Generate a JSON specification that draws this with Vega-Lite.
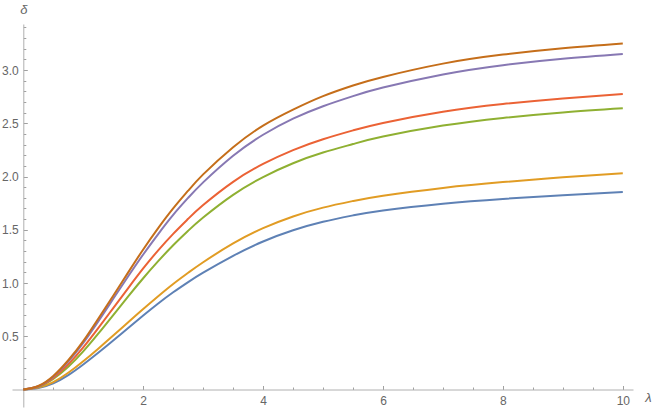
{
  "$schema": "https://vega.github.io/schema/vega-lite/v6.json",
  "width": 621,
  "height": 383,
  "autosize": "none",
  "padding": {"left": 12, "top": 24, "right": 21, "bottom": 5},
  "background": "white",
  "config": {
    "view": {"stroke": null},
    "axis": {
      "grid": false,
      "domainColor": "#b0b0b0",
      "domainWidth": 1,
      "tickColor": "#a0a0a0",
      "labelColor": "#666666",
      "labelFont": "Liberation Sans",
      "labelFontSize": 12,
      "titleFont": "Liberation Sans",
      "titleFontSize": 13,
      "titleFontStyle": "italic",
      "titleFontWeight": "normal",
      "titleColor": "#666666"
    }
  },
  "data": {
    "values": [
      {"s": 1, "l": 0, "d": 0}, {"s": 1, "l": 0.25, "d": 0.014}, {"s": 1, "l": 0.5, "d": 0.058}, {"s": 1, "l": 0.75, "d": 0.135},
      {"s": 1, "l": 1, "d": 0.235}, {"s": 1, "l": 1.25, "d": 0.345}, {"s": 1, "l": 1.5, "d": 0.46}, {"s": 1, "l": 1.75, "d": 0.578},
      {"s": 1, "l": 2, "d": 0.695}, {"s": 1, "l": 2.25, "d": 0.808}, {"s": 1, "l": 2.5, "d": 0.913}, {"s": 1, "l": 2.75, "d": 1.009},
      {"s": 1, "l": 3, "d": 1.097}, {"s": 1, "l": 3.5, "d": 1.255}, {"s": 1, "l": 4, "d": 1.39}, {"s": 1, "l": 4.5, "d": 1.495},
      {"s": 1, "l": 5, "d": 1.575}, {"s": 1, "l": 5.5, "d": 1.635}, {"s": 1, "l": 6, "d": 1.682}, {"s": 1, "l": 7, "d": 1.745},
      {"s": 1, "l": 8, "d": 1.79}, {"s": 1, "l": 9, "d": 1.825}, {"s": 1, "l": 10, "d": 1.855},

      {"s": 2, "l": 0, "d": 0}, {"s": 2, "l": 0.25, "d": 0.018}, {"s": 2, "l": 0.5, "d": 0.07}, {"s": 2, "l": 0.75, "d": 0.158},
      {"s": 2, "l": 1, "d": 0.266}, {"s": 2, "l": 1.25, "d": 0.384}, {"s": 2, "l": 1.5, "d": 0.507}, {"s": 2, "l": 1.75, "d": 0.632},
      {"s": 2, "l": 2, "d": 0.756}, {"s": 2, "l": 2.25, "d": 0.876}, {"s": 2, "l": 2.5, "d": 0.991}, {"s": 2, "l": 2.75, "d": 1.096},
      {"s": 2, "l": 3, "d": 1.195}, {"s": 2, "l": 3.5, "d": 1.372}, {"s": 2, "l": 4, "d": 1.515}, {"s": 2, "l": 4.5, "d": 1.625},
      {"s": 2, "l": 5, "d": 1.708}, {"s": 2, "l": 5.5, "d": 1.77}, {"s": 2, "l": 6, "d": 1.82}, {"s": 2, "l": 7, "d": 1.893},
      {"s": 2, "l": 8, "d": 1.948}, {"s": 2, "l": 9, "d": 1.992}, {"s": 2, "l": 10, "d": 2.03},

      {"s": 3, "l": 0, "d": 0}, {"s": 3, "l": 0.25, "d": 0.025}, {"s": 3, "l": 0.5, "d": 0.099}, {"s": 3, "l": 0.75, "d": 0.213},
      {"s": 3, "l": 1, "d": 0.358}, {"s": 3, "l": 1.25, "d": 0.524}, {"s": 3, "l": 1.5, "d": 0.699}, {"s": 3, "l": 1.75, "d": 0.875},
      {"s": 3, "l": 2, "d": 1.045}, {"s": 3, "l": 2.25, "d": 1.205}, {"s": 3, "l": 2.5, "d": 1.355}, {"s": 3, "l": 2.75, "d": 1.491},
      {"s": 3, "l": 3, "d": 1.615}, {"s": 3, "l": 3.5, "d": 1.828}, {"s": 3, "l": 4, "d": 1.995}, {"s": 3, "l": 4.5, "d": 2.125},
      {"s": 3, "l": 5, "d": 2.225}, {"s": 3, "l": 5.5, "d": 2.305}, {"s": 3, "l": 6, "d": 2.375}, {"s": 3, "l": 7, "d": 2.478},
      {"s": 3, "l": 8, "d": 2.55}, {"s": 3, "l": 9, "d": 2.602}, {"s": 3, "l": 10, "d": 2.64},

      {"s": 4, "l": 0, "d": 0}, {"s": 4, "l": 0.25, "d": 0.028}, {"s": 4, "l": 0.5, "d": 0.109}, {"s": 4, "l": 0.75, "d": 0.236},
      {"s": 4, "l": 1, "d": 0.395}, {"s": 4, "l": 1.25, "d": 0.576}, {"s": 4, "l": 1.5, "d": 0.765}, {"s": 4, "l": 1.75, "d": 0.953},
      {"s": 4, "l": 2, "d": 1.137}, {"s": 4, "l": 2.25, "d": 1.307}, {"s": 4, "l": 2.5, "d": 1.462}, {"s": 4, "l": 2.75, "d": 1.603},
      {"s": 4, "l": 3, "d": 1.732}, {"s": 4, "l": 3.5, "d": 1.95}, {"s": 4, "l": 4, "d": 2.118}, {"s": 4, "l": 4.5, "d": 2.248},
      {"s": 4, "l": 5, "d": 2.35}, {"s": 4, "l": 5.5, "d": 2.433}, {"s": 4, "l": 6, "d": 2.503}, {"s": 4, "l": 7, "d": 2.608},
      {"s": 4, "l": 8, "d": 2.68}, {"s": 4, "l": 9, "d": 2.733}, {"s": 4, "l": 10, "d": 2.775},

      {"s": 5, "l": 0, "d": 0}, {"s": 5, "l": 0.25, "d": 0.031}, {"s": 5, "l": 0.5, "d": 0.121}, {"s": 5, "l": 0.75, "d": 0.262},
      {"s": 5, "l": 1, "d": 0.438}, {"s": 5, "l": 1.25, "d": 0.64}, {"s": 5, "l": 1.5, "d": 0.852}, {"s": 5, "l": 1.75, "d": 1.063},
      {"s": 5, "l": 2, "d": 1.268}, {"s": 5, "l": 2.25, "d": 1.46}, {"s": 5, "l": 2.5, "d": 1.64}, {"s": 5, "l": 2.75, "d": 1.8},
      {"s": 5, "l": 3, "d": 1.945}, {"s": 5, "l": 3.5, "d": 2.195}, {"s": 5, "l": 4, "d": 2.392}, {"s": 5, "l": 4.5, "d": 2.543},
      {"s": 5, "l": 5, "d": 2.66}, {"s": 5, "l": 5.5, "d": 2.755}, {"s": 5, "l": 6, "d": 2.835}, {"s": 5, "l": 7, "d": 2.958},
      {"s": 5, "l": 8, "d": 3.045}, {"s": 5, "l": 9, "d": 3.105}, {"s": 5, "l": 10, "d": 3.15},

      {"s": 6, "l": 0, "d": 0}, {"s": 6, "l": 0.25, "d": 0.033}, {"s": 6, "l": 0.5, "d": 0.127}, {"s": 6, "l": 0.75, "d": 0.275},
      {"s": 6, "l": 1, "d": 0.455}, {"s": 6, "l": 1.25, "d": 0.665}, {"s": 6, "l": 1.5, "d": 0.88}, {"s": 6, "l": 1.75, "d": 1.1},
      {"s": 6, "l": 2, "d": 1.315}, {"s": 6, "l": 2.25, "d": 1.515}, {"s": 6, "l": 2.5, "d": 1.7}, {"s": 6, "l": 2.75, "d": 1.867},
      {"s": 6, "l": 3, "d": 2.02}, {"s": 6, "l": 3.5, "d": 2.275}, {"s": 6, "l": 4, "d": 2.478}, {"s": 6, "l": 4.5, "d": 2.628},
      {"s": 6, "l": 5, "d": 2.755}, {"s": 6, "l": 5.5, "d": 2.855}, {"s": 6, "l": 6, "d": 2.935}, {"s": 6, "l": 7, "d": 3.06},
      {"s": 6, "l": 8, "d": 3.145}, {"s": 6, "l": 9, "d": 3.205}, {"s": 6, "l": 10, "d": 3.25}
    ]
  },
  "layer": [
    {
      "mark": {"type": "line", "opacity": 0},
      "encoding": {
        "x": {
          "field": "l", "type": "quantitative",
          "scale": {"domain": [-0.1885, 10.17], "nice": false, "zero": false},
          "axis": {
            "orient": "bottom", "offset": -17.5, "domain": false, "labels": false, "title": null,
            "tickSize": -2.5,
            "values": [0.5, 1, 1.5, 2.5, 3, 3.5, 4.5, 5, 5.5, 6.5, 7, 7.5, 8.5, 9, 9.5]
          }
        },
        "y": {
          "field": "d", "type": "quantitative",
          "scale": {"domain": [-0.164, 3.432], "nice": false, "zero": false},
          "axis": {
            "orient": "left", "offset": -11.3, "domain": false, "labels": false, "title": null,
            "tickSize": -2.5,
            "values": [0.1, 0.2, 0.3, 0.4, 0.6, 0.7, 0.8, 0.9, 1.1, 1.2, 1.3, 1.4, 1.6, 1.7, 1.8, 1.9, 2.1, 2.2, 2.3, 2.4, 2.6, 2.7, 2.8, 2.9, 3.1, 3.2, 3.3, 3.4]
          }
        },
        "detail": {"field": "s"}
      }
    },
    {
      "mark": {"type": "line", "strokeWidth": 2, "interpolate": "natural"},
      "encoding": {
        "x": {
          "field": "l", "type": "quantitative",
          "axis": {
            "orient": "bottom", "offset": -17.5, "tickSize": -4, "labelPadding": 10,
            "values": [2, 4, 6, 8, 10], "format": "d",
            "title": "λ", "titleAngle": 0, "titleX": 636, "titleY": 8,
            "titleAlign": "center", "titleBaseline": "middle"
          }
        },
        "y": {
          "field": "d", "type": "quantitative",
          "axis": {
            "orient": "left", "offset": -11.3, "tickSize": -4, "labelPadding": 9,
            "values": [0.5, 1, 1.5, 2, 2.5, 3], "format": ".1f",
            "title": "δ", "titleAngle": 0, "titleX": 0, "titleY": -15,
            "titleAlign": "center", "titleBaseline": "middle"
          }
        },
        "color": {
          "field": "s", "type": "nominal", "legend": null,
          "scale": {
            "domain": [1, 2, 3, 4, 5, 6],
            "range": ["#5E81B5", "#E19C24", "#8FB032", "#EB6235", "#8778B3", "#C56E1A"]
          }
        }
      }
    }
  ],
  "resolve": {"axis": {"x": "independent", "y": "independent"}}
}
